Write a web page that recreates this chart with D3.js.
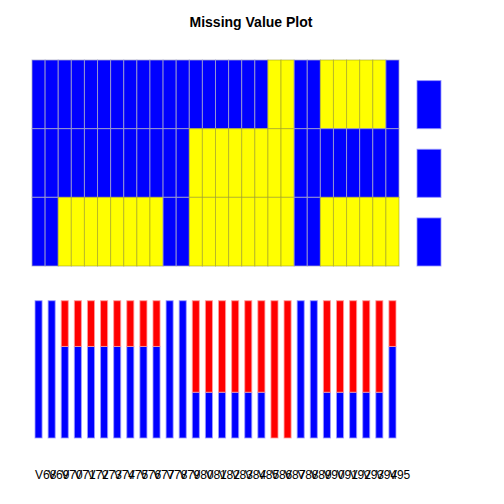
<!DOCTYPE html>
<html><head><meta charset="utf-8">
<script src="https://cdn.jsdelivr.net/npm/d3@7"></script>
<style>body{margin:0;background:#fff}svg{display:block}</style>
</head><body>
<script>
const columns = ["V68","V69","V70","V71","V72","V73","V74","V75","V76","V77","V78","V79","V80","V81","V82","V83","V84","V85","V86","V87","V88","V89","V90","V91","V92","V93","V94","V95"];
const rowNames = ["r1","r2","r3"];
// 1 = missing (yellow), 0 = observed (blue)
const missRow1 = [0,0,0,0,0,0,0,0,0,0,0,0,0,0,0,0,0,0,1,1,0,0,1,1,1,1,1,0];
const missRow2 = [0,0,0,0,0,0,0,0,0,0,0,0,1,1,1,1,1,1,1,1,0,0,0,0,0,0,0,0];
const missRow3 = [0,0,1,1,1,1,1,1,1,1,0,0,1,1,1,1,1,1,1,1,0,0,1,1,1,1,1,1];
const rowBarValues = [1,1,1];
const title = "Missing Value Plot";

const W=504,H=504;
const svg=d3.select("body").append("svg").attr("width",W).attr("height",H);
const matrix=[missRow1,missRow2,missRow3];

const x=d3.scaleBand().domain(columns).range([32,399]).padding(0);
const y=d3.scaleBand().domain(rowNames).range([60,266]).padding(0);
const cellStroke={0:"rgba(170,170,200,0.75)",1:"rgba(150,150,40,0.55)"};
const fill={0:"#0000ff",1:"#ffff00"};

svg.append("text").attr("x",251).attr("y",27).attr("text-anchor","middle")
  .attr("font-family","Liberation Sans, Arial, sans-serif").attr("font-weight","bold")
  .attr("font-size",14).text(title);

const cells=[];
matrix.forEach((row,i)=>row.forEach((v,j)=>cells.push({r:rowNames[i],c:columns[j],v})));
svg.append("g").selectAll("rect").data(cells).join("rect")
  .attr("x",d=>x(d.c)).attr("y",d=>y(d.r))
  .attr("width",x.bandwidth()).attr("height",y.bandwidth())
  .attr("fill",d=>fill[d.v]).attr("stroke",d=>cellStroke[d.v]).attr("stroke-width",1);

// row bars on the right
const rb=d3.scaleLinear().domain([0,1/0.7]).range([0,y.bandwidth()]);
svg.append("g").selectAll("rect").data(rowNames).join("rect")
  .attr("x",417).attr("width",24)
  .attr("y",(d,i)=>y(d)+y.bandwidth()-rb(rowBarValues[i]))
  .attr("height",(d,i)=>rb(rowBarValues[i]))
  .attr("fill","#0000ff").attr("stroke","rgba(150,150,255,0.8)").attr("stroke-width",1);

// column bars: fraction observed (blue) and missing (red)
const colData=columns.map((c,j)=>{
  const m=d3.sum(matrix,r=>r[j])/matrix.length;
  return {c,obs:1-m,miss:m};
});
const yb=d3.scaleLinear().domain([0,1]).range([438,300.7]);
const bw=x.bandwidth()*0.54;
const bx=d=>x(d.c)+(x.bandwidth()-bw)/2;
const gb=svg.append("g");
gb.selectAll("rect.obs").data(colData.filter(d=>d.obs>0)).join("rect").attr("class","obs")
  .attr("x",bx).attr("width",bw).attr("y",d=>yb(d.obs)).attr("height",d=>yb(0)-yb(d.obs))
  .attr("fill","#0000ff").attr("stroke","rgba(160,160,255,0.8)").attr("stroke-width",1);
gb.selectAll("rect.miss").data(colData.filter(d=>d.miss>0)).join("rect").attr("class","miss")
  .attr("x",bx).attr("width",bw).attr("y",yb(1)).attr("height",d=>yb(d.obs)-yb(1))
  .attr("fill","#ff0000").attr("stroke","rgba(255,160,160,0.8)").attr("stroke-width",1);

svg.append("g").selectAll("text").data(columns).join("text")
  .attr("x",d=>x(d)+3).attr("y",479)
  .attr("font-family","Liberation Sans, Arial, sans-serif").attr("font-size",12)
  .attr("fill","#000").text(d=>d);
</script>
</body></html>
